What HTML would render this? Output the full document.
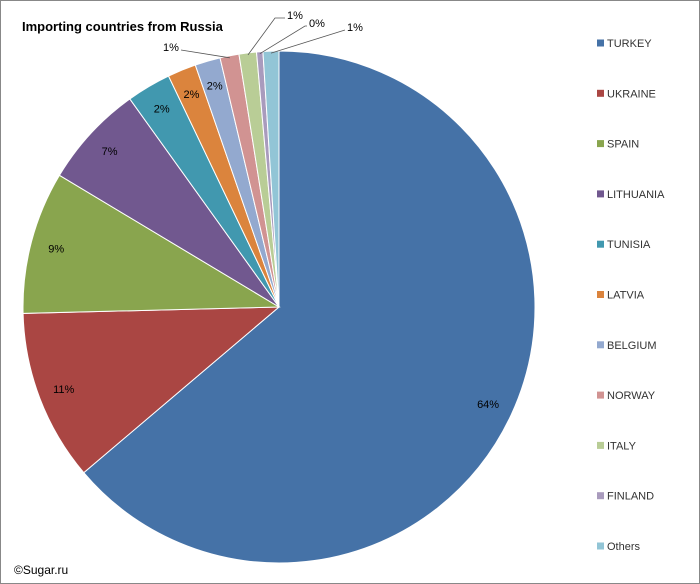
<!DOCTYPE html>
<html><head><meta charset="utf-8"><style>
body{margin:0;background:#fff}
svg{display:block;font-family:"Liberation Sans",Arial,sans-serif}
</style></head><body>
<svg id="chart" width="700" height="584" viewBox="0 0 700 584">
<rect x="0.5" y="0.5" width="699" height="583" fill="#fff" stroke="#888"/>
<text x="22" y="31" font-size="13" font-weight="bold" fill="#000">Importing countries from Russia</text>
<text x="14" y="574" font-size="12" fill="#000">©Sugar.ru</text>
<g id="slices"></g><g id="labels"></g><g id="legend"></g>
</svg>
<script>
const categories=["TURKEY","UKRAINE","SPAIN","LITHUANIA","TUNISIA","LATVIA","BELGIUM","NORWAY","ITALY","FINLAND","Others"];
const values=[63.8,10.8,9.0,6.5,2.8,1.8,1.6,1.2,1.1,0.4,1.0];
const labels=["64%","11%","9%","7%","2%","2%","2%","1%","1%","0%","1%"];
const colors=["#4572A7","#AA4643","#89A54E","#71588F","#4198AF","#DB843D","#93A9CF","#D19392","#B9CD96","#A99BBD","#92C5D6"];
const NS="http://www.w3.org/2000/svg";
const cx=279,cy=307,r=256;
const total=values.reduce((a,b)=>a+b,0);
function pt(frac,rad){const a=frac*2*Math.PI;return [cx+rad*Math.sin(a),cy-rad*Math.cos(a)];}
const gS=document.getElementById('slices'),gL=document.getElementById('labels'),gG=document.getElementById('legend');
let cum=0;
const outside={7:[163,51],8:[287,19],9:[309,27],10:[347,31]};
const bends={7:null,8:[275,18],9:[305,26],10:[345,30]};
values.forEach((v,i)=>{
  const f0=cum/total,f1=(cum+v)/total;cum+=v;
  const p0=pt(f0,r),p1=pt(f1,r);
  const large=(f1-f0)>0.5?1:0;
  const p=document.createElementNS(NS,'path');
  p.setAttribute('d',`M${cx},${cy}L${p0[0]},${p0[1]}A${r},${r} 0 ${large} 1 ${p1[0]},${p1[1]}Z`);
  p.setAttribute('fill',colors[i]);p.setAttribute('stroke','#fff');p.setAttribute('stroke-width','1');
  
  
  gS.appendChild(p);
  const fm=(f0+f1)/2;
  const t=document.createElementNS(NS,'text');
  t.setAttribute('font-size','11');t.setAttribute('fill','#000');
  if(outside[i]){
    const o=outside[i];const e=pt(fm,r-2);
    const l=document.createElementNS(NS,'polyline');
    let pts;
    if(bends[i]){pts=`${e[0]},${e[1]} ${bends[i][0]},${bends[i][1]} ${o[0]-2},${bends[i][1]}`;}
    else{pts=`${e[0]},${e[1]} ${o[0]+18},${o[1]-1}`;}
    l.setAttribute('points',pts);l.setAttribute('fill','none');l.setAttribute('stroke','#555');l.setAttribute('stroke-width','0.8');
    
    
    gL.appendChild(l);
    t.setAttribute('x',o[0]);t.setAttribute('y',o[1]);
    t.setAttribute('text-anchor','start');
  }else{
    const q=pt(fm,r*0.9);
    t.setAttribute('x',q[0]);t.setAttribute('y',q[1]+4);t.setAttribute('text-anchor','middle');
  }
  t.textContent=labels[i];
  
  
  gL.appendChild(t);
  const y=43+i*50.3;
  const s=document.createElementNS(NS,'rect');
  s.setAttribute('x',597);s.setAttribute('y',y-3.5);s.setAttribute('width',7);s.setAttribute('height',7);s.setAttribute('fill',colors[i]);
  
  
  gG.appendChild(s);
  const lt=document.createElementNS(NS,'text');
  lt.setAttribute('x',607);lt.setAttribute('y',y+4);lt.setAttribute('font-size','11');lt.setAttribute('fill','#333');
  lt.textContent=categories[i];
  
  
  gG.appendChild(lt);
});
</script>
</body></html>
